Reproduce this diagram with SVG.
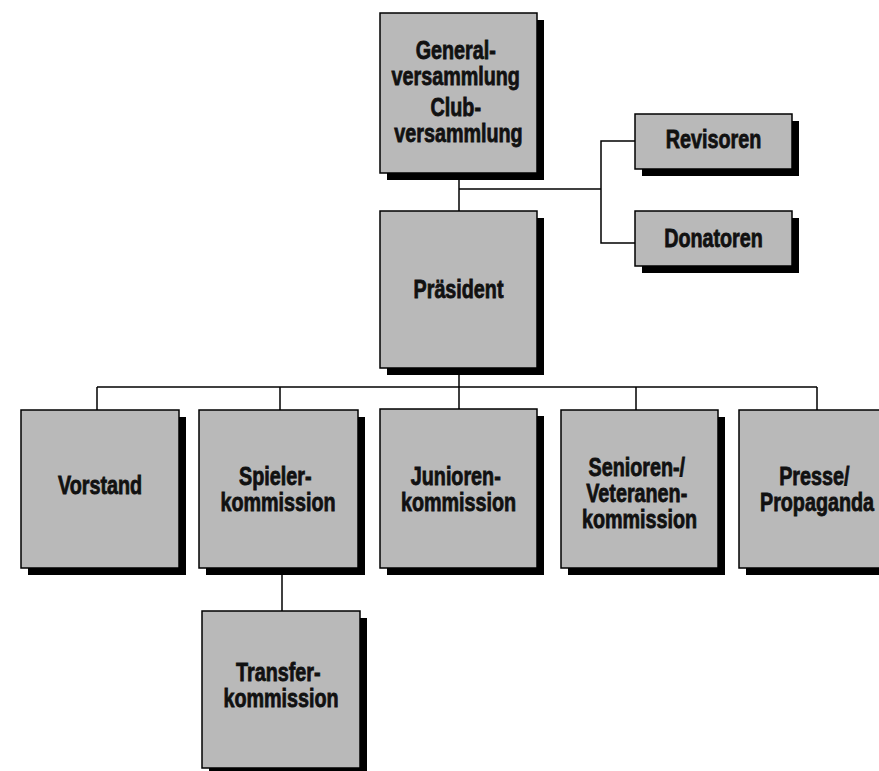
<svg xmlns="http://www.w3.org/2000/svg" width="879" height="771" viewBox="0 0 879 771">
  <defs>
    <style>
      .box { fill: #b9b9b9; stroke: #000; stroke-width: 1.5; }
      .shadow { fill: #000; }
      .lbl { font-family: "Liberation Sans", Arial, sans-serif; font-weight: bold; font-size: 25px; fill: #111; stroke: #111; stroke-width: 0.8; text-anchor: middle; }
      .conn { fill: none; stroke: #000; stroke-width: 1.5; }
    </style>
  </defs>
  <rect width="879" height="771" fill="#fff"/>

  <g id="connectors">
    <path class="conn" d="M459,173 V211"/>
    <path class="conn" d="M459,189 H601"/>
    <path class="conn" d="M635,141 H601 V243 H635"/>
    <path class="conn" d="M459,368 V387"/>
    <path class="conn" d="M97,387 H817"/>
    <path class="conn" d="M97,387 V410 M280,387 V410 M459,387 V409 M636,387 V410 M817,387 V410"/>
    <path class="conn" d="M282,568 V611"/>
  </g>

  <g id="generalversammlung">
    <rect class="shadow" x="387" y="20" width="157" height="160"/>
    <rect class="box" x="380" y="13" width="157" height="160"/>
    <text class="lbl" transform="translate(458.5,0) scale(0.79,1)">
      <tspan x="0" y="59">General-</tspan>
      <tspan x="0" y="85">versammlung</tspan>
      <tspan x="0" y="116">Club-</tspan>
      <tspan x="0" y="142">versammlung</tspan>
    </text>
  </g>

  <g id="revisoren">
    <rect class="shadow" x="642" y="121" width="157" height="55"/>
    <rect class="box" x="635" y="114" width="157" height="55"/>
    <text class="lbl" transform="translate(713.5,0) scale(0.79,1)"><tspan x="0" y="148">Revisoren</tspan></text>
  </g>

  <g id="donatoren">
    <rect class="shadow" x="642" y="218" width="157" height="55"/>
    <rect class="box" x="635" y="211" width="157" height="55"/>
    <text class="lbl" transform="translate(713.5,0) scale(0.79,1)"><tspan x="0" y="247">Donatoren</tspan></text>
  </g>

  <g id="praesident">
    <rect class="shadow" x="387" y="218" width="157" height="157"/>
    <rect class="box" x="380" y="211" width="157" height="157"/>
    <text class="lbl" transform="translate(458.5,0) scale(0.79,1)"><tspan x="0" y="298">Präsident</tspan></text>
  </g>

  <g id="vorstand">
    <rect class="shadow" x="28" y="417" width="158" height="158"/>
    <rect class="box" x="21" y="410" width="158" height="158"/>
    <text class="lbl" transform="translate(100,0) scale(0.79,1)"><tspan x="0" y="494">Vorstand</tspan></text>
  </g>

  <g id="spielerkommission">
    <rect class="shadow" x="206" y="417" width="159" height="158"/>
    <rect class="box" x="199" y="410" width="159" height="158"/>
    <text class="lbl" transform="translate(278,0) scale(0.79,1)">
      <tspan x="0" y="485">Spieler-</tspan>
      <tspan x="0" y="511">kommission</tspan>
    </text>
  </g>

  <g id="juniorenkommission">
    <rect class="shadow" x="387" y="416" width="157" height="159"/>
    <rect class="box" x="380" y="409" width="157" height="159"/>
    <text class="lbl" transform="translate(458.5,0) scale(0.79,1)">
      <tspan x="0" y="485">Junioren-</tspan>
      <tspan x="0" y="511">kommission</tspan>
    </text>
  </g>

  <g id="seniorenkommission">
    <rect class="shadow" x="568" y="417" width="157" height="158"/>
    <rect class="box" x="561" y="410" width="157" height="158"/>
    <text class="lbl" transform="translate(639.5,0) scale(0.79,1)">
      <tspan x="0" y="476">Senioren-/</tspan>
      <tspan x="0" y="502">Veteranen-</tspan>
      <tspan x="0" y="528">kommission</tspan>
    </text>
  </g>

  <g id="presse">
    <rect class="shadow" x="746" y="417" width="157" height="158"/>
    <rect class="box" x="739" y="410" width="157" height="158"/>
    <text class="lbl" transform="translate(817,0) scale(0.79,1)">
      <tspan x="0" y="485">Presse/</tspan>
      <tspan x="0" y="511">Propaganda</tspan>
    </text>
  </g>

  <g id="transferkommission">
    <rect class="shadow" x="209" y="618" width="158" height="157"/>
    <rect class="box" x="202" y="611" width="158" height="157"/>
    <text class="lbl" transform="translate(281,0) scale(0.79,1)">
      <tspan x="0" y="681">Transfer-</tspan>
      <tspan x="0" y="707">kommission</tspan>
    </text>
  </g>
</svg>
